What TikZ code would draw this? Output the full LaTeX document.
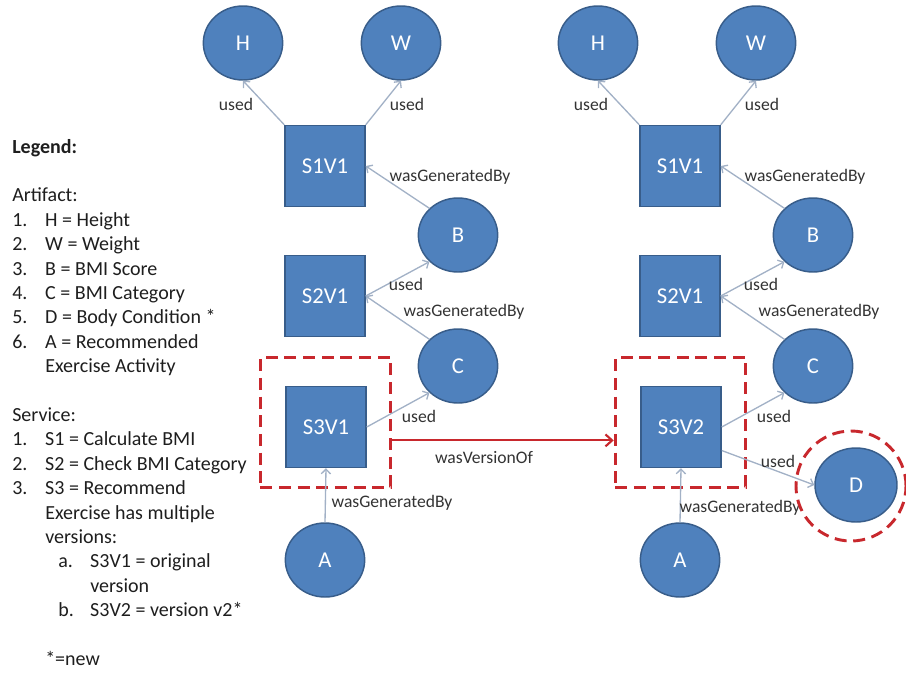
\documentclass[tikz,border=0pt]{standalone}
\usepackage{fontspec}
\setmainfont{Carlito}
\usetikzlibrary{shapes.geometric,arrows.meta}

\definecolor{nodeblue}{HTML}{4F81BD}
\definecolor{nodeedge}{HTML}{385D8A}
\definecolor{linkgray}{HTML}{A2B1C6}
\definecolor{verred}{HTML}{C8282D}
\definecolor{lbltxt}{HTML}{333333}
\definecolor{legtxt}{HTML}{1E1E1E}

\tikzset{
  artifact/.style={ellipse, fill=nodeblue, draw=nodeedge, line width=1.1pt,
    minimum width=59.5pt, minimum height=55.5pt, inner sep=0pt,
    text=white, font=\fontsize{17}{20}\selectfont},
  service/.style={rectangle, fill=nodeblue, draw=nodeedge, line width=1.1pt,
    minimum width=60pt, minimum height=60.75pt, inner sep=0pt,
    text=white, font=\fontsize{17}{20}\selectfont},
  rel/.style={draw=linkgray, line width=1pt, ->},
  lbl/.style={text=lbltxt, font=\fontsize{13.2}{16}\selectfont, inner sep=0pt},
  verbox/.style={draw=verred, line width=2.2pt, dash pattern=on 9pt off 5pt},
}

\begin{document}
\begin{tikzpicture}[x=0.75pt, y=-0.75pt, >={Straight Barb[length=3.5pt,width=7pt]}]
\useasboundingbox (0,0) rectangle (906,672);

% legend
\node[anchor=base west, inner sep=0pt, text=legtxt, font=\fontsize{15}{18.3}\selectfont] (legend) at (12,153) {%
\begin{tabular}[t]{@{}p{24.75pt}@{}l@{}}
\multicolumn{2}{@{}l@{}}{\textbf{Legend:}}\\
 & \\
\multicolumn{2}{@{}l@{}}{Artifact:}\\
1. & H = Height\\
2. & W = Weight\\
3. & B = BMI Score\\
4. & C = BMI Category\\
5. & D = Body Condition *\\
6. & A = Recommended\\
 & Exercise Activity\\
 & \\
\multicolumn{2}{@{}l@{}}{Service:}\\
1. & S1 = Calculate BMI\\
2. & S2 = Check BMI Category\\
3. & S3 = Recommend\\
 & Exercise has multiple\\
 & versions:\\
 & \hspace*{9.75pt}\makebox[24pt][l]{a.}S3V1 = original\\
 & \hspace*{33.75pt}version\\
 & \hspace*{9.75pt}\makebox[24pt][l]{b.}S3V2 = version v2*\\
 & \\
 & *=new
\end{tabular}};

% the two provenance graphs
\foreach \dx/\v in {0/1,355/2}{
  \node[artifact] (H\v) at (243+\dx,43) {H};
  \node[artifact] (W\v) at (401+\dx,43) {W};
  \node[service] (S1\v) at (325+\dx,166) {S1V1};
  \node[artifact] (B\v) at (458+\dx,235) {B};
  \node[service] (S2\v) at (325+\dx,296) {S2V1};
  \node[artifact] (C\v) at (458+\dx,366) {C};
  \node[service] (S3\v) at (326+\dx,427) {S3V\v};
  \node[artifact] (A\v) at (325+\dx,560) {A};
  \node[verbox, minimum width=98pt, minimum height=97pt] (V\v) at (325.5+\dx,422.5) {};
  \draw[rel] (S1\v.north west) -- (H\v.south);
  \draw[rel] (S1\v.north east) -- (W\v.south);
  \draw[rel] (B\v.north west) -- (S1\v.east);
  \draw[rel] (S2\v.east) -- (B\v.south west);
  \draw[rel] (C\v.north west) -- (S2\v.east);
  \draw[rel] (S3\v.east) -- (C\v.south west);
  \draw[rel] (A\v.north) -- (S3\v.south);
  \node[lbl] (uH\v) at (236+\dx,104) {used};
  \node[lbl] (uW\v) at (407+\dx,104) {used};
  \node[lbl] (gB\v) at (450+\dx,177) {wasGeneratedBy};
  \node[lbl] (uB\v) at (406+\dx,284) {used};
  \node[lbl] (gC\v) at (464+\dx,312) {wasGeneratedBy};
  \node[lbl] (uC\v) at (419+\dx,416) {used};
}
\node[lbl] (gA1) at (392,503) {wasGeneratedBy};
\node[lbl] (gA2) at (740,508) {wasGeneratedBy};

% new artifact D
\node[artifact, minimum width=61.5pt] (D) at (856,485) {D};
\node[verbox, circle, minimum size=82.5pt] (Dring) at (851,486) {};
\draw[rel] (S32.-30) -- (D.west);
\node[lbl] (uD) at (778,461) {used};

% version link
\draw[verred, line width=1.6pt, -{Straight Barb[length=5pt,width=9pt]}] (V1.-15) -- (V2.-165);
\node[lbl] (vers) at (484,457) {wasVersionOf};
\end{tikzpicture}
\end{document}
